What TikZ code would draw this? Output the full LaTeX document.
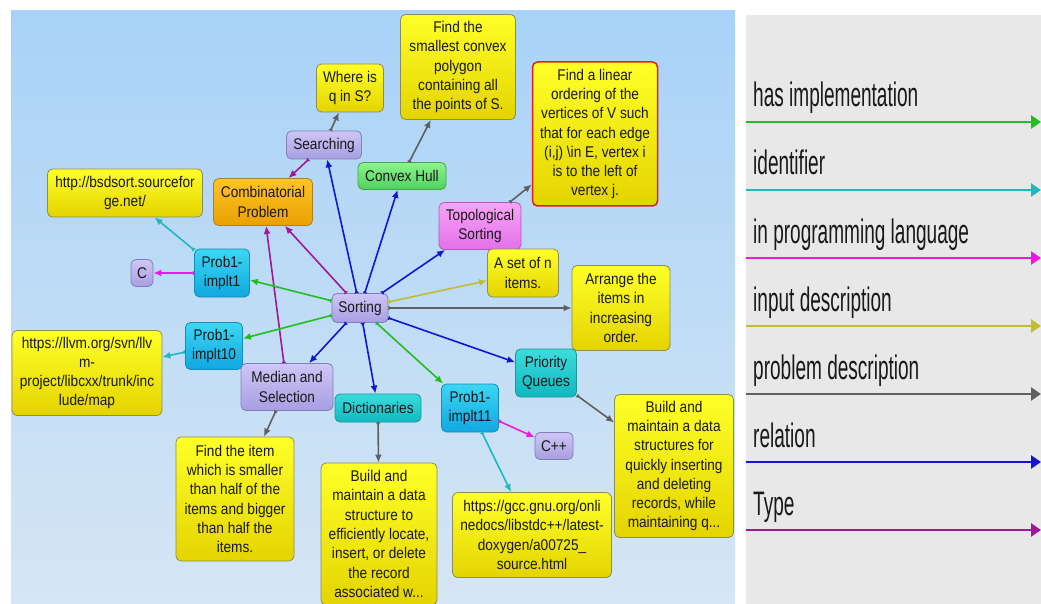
\documentclass[tikz,border=0pt]{standalone}
\usepackage{fontspec}
\setmainfont{Liberation Sans}
\newfontfamily\nodefont{Liberation Sans}[FakeStretch=0.88]
\newfontfamily\legfont{Liberation Sans}[FakeStretch=0.56]
\usetikzlibrary{arrows.meta}
\definecolor{txt}{RGB}{25,25,25}
\definecolor{bgT}{RGB}{168,210,247}
\definecolor{bgB}{RGB}{214,230,244}
\definecolor{legbg}{RGB}{232,232,232}
\definecolor{yelT}{RGB}{255,255,40}
\definecolor{yelB}{RGB}{228,212,0}
\definecolor{yelD}{RGB}{140,140,90}
\definecolor{lavT}{RGB}{206,198,246}
\definecolor{lavB}{RGB}{168,158,226}
\definecolor{lavD}{RGB}{128,128,180}
\definecolor{cyaT}{RGB}{60,214,244}
\definecolor{cyaB}{RGB}{16,168,224}
\definecolor{cyaD}{RGB}{24,140,180}
\definecolor{tealT}{RGB}{60,220,220}
\definecolor{tealB}{RGB}{16,184,192}
\definecolor{tealD}{RGB}{30,150,150}
\definecolor{oraT}{RGB}{255,196,40}
\definecolor{oraB}{RGB}{232,160,0}
\definecolor{oraD}{RGB}{170,130,40}
\definecolor{grnT}{RGB}{140,244,140}
\definecolor{grnB}{RGB}{80,208,96}
\definecolor{grnD}{RGB}{60,170,70}
\definecolor{pnkT}{RGB}{248,164,248}
\definecolor{pnkB}{RGB}{226,112,232}
\definecolor{pnkD}{RGB}{180,90,180}
\definecolor{redD}{RGB}{224,32,32}
\definecolor{cImpl}{RGB}{32,190,32}
\definecolor{cIdent}{RGB}{32,184,190}
\definecolor{cLang}{RGB}{240,24,224}
\definecolor{cInput}{RGB}{196,188,48}
\definecolor{cProb}{RGB}{96,96,96}
\definecolor{cRel}{RGB}{20,20,216}
\definecolor{cType}{RGB}{160,24,154}
\tikzset{
  x=1pt, y=-1pt,
  box/.style={rounded corners=5pt, draw, line width=0.8pt, align=center, inner sep=1pt,
    font=\nodefont\fontsize{15.5}{19.3}\selectfont, text=txt},
  yel/.style={box, top color=yelT, bottom color=yelB, draw=yelD},
  lav/.style={box, top color=lavT, bottom color=lavB, draw=lavD},
  cya/.style={box, top color=cyaT, bottom color=cyaB, draw=cyaD},
  tea/.style={box, top color=tealT, bottom color=tealB, draw=tealD},
  ora/.style={box, top color=oraT, bottom color=oraB, draw=oraD},
  grn/.style={box, top color=grnT, bottom color=grnB, draw=grnD},
  pnk/.style={box, top color=pnkT, bottom color=pnkB, draw=pnkD},
  sz/.style 2 args={minimum width=#1pt, minimum height=#2pt},
  lnk/.style={line width=1.6pt, {Latex[length=3.5pt,width=5pt,reversed]}-{Latex[length=8pt,width=7pt]}},
  impl/.style={lnk, draw=cImpl},
  ident/.style={lnk, draw=cIdent},
  lang/.style={lnk, draw=cLang},
  inp/.style={lnk, draw=cInput},
  prob/.style={lnk, draw=cProb},
  rel/.style={lnk, draw=cRel},
  typ/.style={lnk, draw=cType},
  leglab/.style={anchor=base west, inner sep=0pt, text=txt, font=\legfont\fontsize{34}{40}\selectfont},
  legarr/.style={line width=2.8pt, -{Triangle[length=10pt,width=13pt]}},
}
\begin{document}
\begin{tikzpicture}
\useasboundingbox (0,0) rectangle (1041,604);
\fill[white] (0,0) rectangle (1041,604);
\shade[top color=bgT, bottom color=bgB] (11,11) rectangle (735,604);
\fill[legbg] (746,15) rectangle (1041,604);

% nodes
\node[yel, sz={67}{48}] (where) at (350,88) {Where is\\q in S?};
\node[yel, sz={115}{105}] (convexdesc) at (458,67) {Find the\\smallest convex\\polygon\\containing all\\the points of S.};
\node[yel, sz={125}{144}, draw=redD, line width=1.5pt] (topodesc) at (595,134) {Find a linear\\ordering of the\\vertices of V such\\that for each edge\\(i,j) \textbackslash in E, vertex i\\is to the left of\\vertex j.};
\node[lav, sz={75}{28}] (searching) at (324,145) {Searching};
\node[grn, sz={88}{27}] (convex) at (402,176) {Convex Hull};
\node[pnk, sz={82}{47}] (topo) at (480,226) {Topological\\Sorting};
\node[yel, sz={71}{48}] (setn) at (523,273) {A set of n\\items.};
\node[ora, sz={99}{47}] (comb) at (263,202) {Combinatorial\\Problem};
\node[yel, sz={155}{48}] (bsd) at (125,193) {http://bsdsort.sourcefor\\ge.net/};
\node[cya, sz={55}{48}] (impl1) at (222,273) {Prob1-\\implt1};
\node[lav, sz={22}{27}] (clang) at (142,273) {C};
\node[lav, sz={56}{29}] (sorting) at (360,308) {Sorting};
\node[yel, sz={98}{85}] (arrange) at (621,308) {Arrange the\\items in\\increasing\\order.};
\node[tea, sz={61}{48}] (pq) at (546,373) {Priority\\Queues};
\node[tea, sz={86}{28}] (dict) at (378,408) {Dictionaries};
\node[cya, sz={57}{48}] (impl11) at (470,408) {Prob1-\\implt11};
\node[lav, sz={38}{27}] (cpp) at (554,446) {C++};
\node[yel, sz={116}{142}] (dictdesc) at (379,534) {Build and\\maintain a data\\structure to\\efficiently locate,\\insert, or delete\\the record\\associated w...};
\node[yel, sz={159}{85}] (gcc) at (532,535) {https://gcc.gnu.org/onli\\nedocs/libstdc++/latest-\\doxygen/a00725\_\\source.html};
\node[yel, sz={119}{143}] (pqdesc) at (674,466) {Build and\\maintain a data\\structures for\\quickly inserting\\and deleting\\records, while\\maintaining q...};
\node[cya, sz={57}{47}] (impl10) at (214,346) {Prob1-\\implt10};
\node[yel, sz={150}{85}] (llvm) at (87,373) {https://llvm.org/svn/llv\\m-\\project/libcxx/trunk/inc\\lude/map};
\node[lav, sz={92}{47}] (median) at (287,387) {Median and\\Selection};
\node[yel, sz={118}{124}] (itemdesc) at (235,499) {Find the item\\which is smaller\\than half of the\\items and bigger\\than half the\\items.};

% connectors
\draw[rel] (sorting) -- (searching);
\draw[rel] (sorting) -- (convex);
\draw[rel] (sorting) -- (topo);
\draw[rel] (sorting) -- (median);
\draw[rel] (sorting) -- (dict);
\draw[rel] (sorting) -- (pq);
\draw[typ] (sorting) -- (comb);
\draw[typ] (searching) -- (comb);
\draw[typ] (median) -- (comb);
\draw[impl] (sorting) -- (impl1);
\draw[impl] (sorting) -- (impl10);
\draw[impl] (sorting) -- (impl11);
\draw[ident] (impl1) -- (bsd);
\draw[ident] (impl10) -- (llvm);
\draw[ident] (impl11) -- (gcc);
\draw[lang] (impl1) -- (clang);
\draw[lang] (impl11) -- (cpp);
\draw[inp] (sorting) -- (setn);
\draw[prob] (sorting) -- (arrange);
\draw[prob] (searching) -- (where);
\draw[prob] (convex) -- (convexdesc);
\draw[prob] (topo) -- (topodesc);
\draw[prob] (median) -- (itemdesc);
\draw[prob] (dict) -- (dictdesc);
\draw[prob] (pq) -- (pqdesc);

% legend
\node[leglab] (l1) at (753,107) {has implementation};
\node[leglab] (l2) at (753,175) {identifier};
\node[leglab] (l3) at (753,243) {in programming language};
\node[leglab] (l4) at (753,311) {input description};
\node[leglab] (l5) at (753,379) {problem description};
\node[leglab] (l6) at (753,447) {relation};
\node[leglab] (l7) at (753,515) {Type};
\foreach \i/\y/\c in {1/122/cImpl, 2/190/cIdent, 3/258/cLang, 4/326/cInput, 5/394/cProb, 6/462/cRel, 7/530/cType}{
  \coordinate (ls\i) at (746,\y);
  \coordinate (le\i) at (1041,\y);
  \draw[legarr, draw=\c, fill=\c] (ls\i) -- (le\i);
}
\end{tikzpicture}
\end{document}
